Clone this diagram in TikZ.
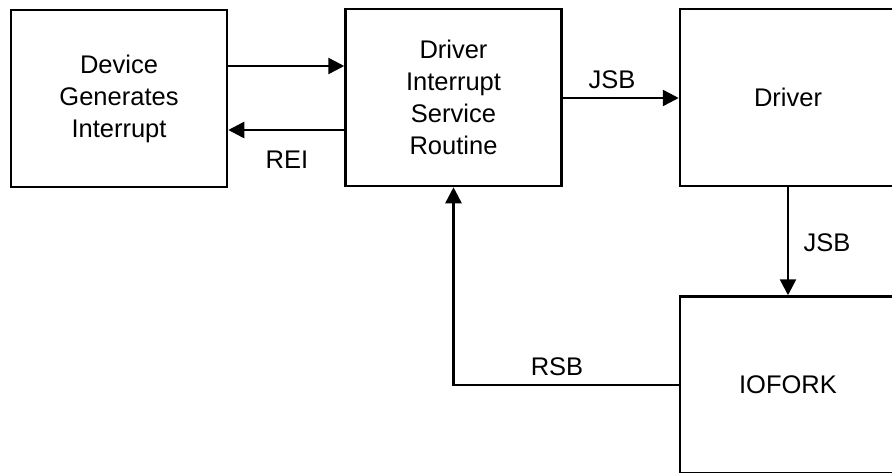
\documentclass[tikz,border=0pt]{standalone}
\usepackage{fontspec}
\setmainfont{Liberation Sans}
\usetikzlibrary{arrows.meta}
\begin{document}
\begin{tikzpicture}[x=1pt,y=-1pt,
  box/.style={draw,line width=2.5pt,minimum width=216pt,minimum height=177pt,inner sep=0pt,align=center,font=\fontsize{25.5}{32}\selectfont},
  conn/.style={line width=2.5pt,-{Triangle[length=16pt,width=16pt]}},
  lbl/.style={font=\fontsize{25.5}{30}\selectfont,inner sep=0pt}]
\useasboundingbox (0,0) rectangle (892,472);
\clip (0,0) rectangle (892,472);
\node[box] (dev) at (119,98.5) {Device\\Generates\\Interrupt};
\node[box] (isr) at (453.5,97.5) {Driver\\Interrupt\\Service\\Routine};
\node[box] (drv) at (788,97.5) {Driver};
\node[box] (iof) at (788,385) {IOFORK};
\draw[conn] (dev.east |- 0,66) -- (isr.west |- 0,66);
\draw[conn] (isr.west |- 0,130) -- (dev.east |- 0,130);
\draw[conn] (isr.east |- 0,98) -- (drv.west |- 0,98);
\draw[conn] (drv.south) -- (iof.north);
\draw[conn] (iof.west) -| (isr.south);
\node[lbl] (rei) at (287,160) {REI};
\node[lbl] (jsb1) at (612,80) {JSB};
\node[lbl] (jsb2) at (827,243) {JSB};
\node[lbl] (rsb) at (557,367) {RSB};
\end{tikzpicture}
\end{document}
